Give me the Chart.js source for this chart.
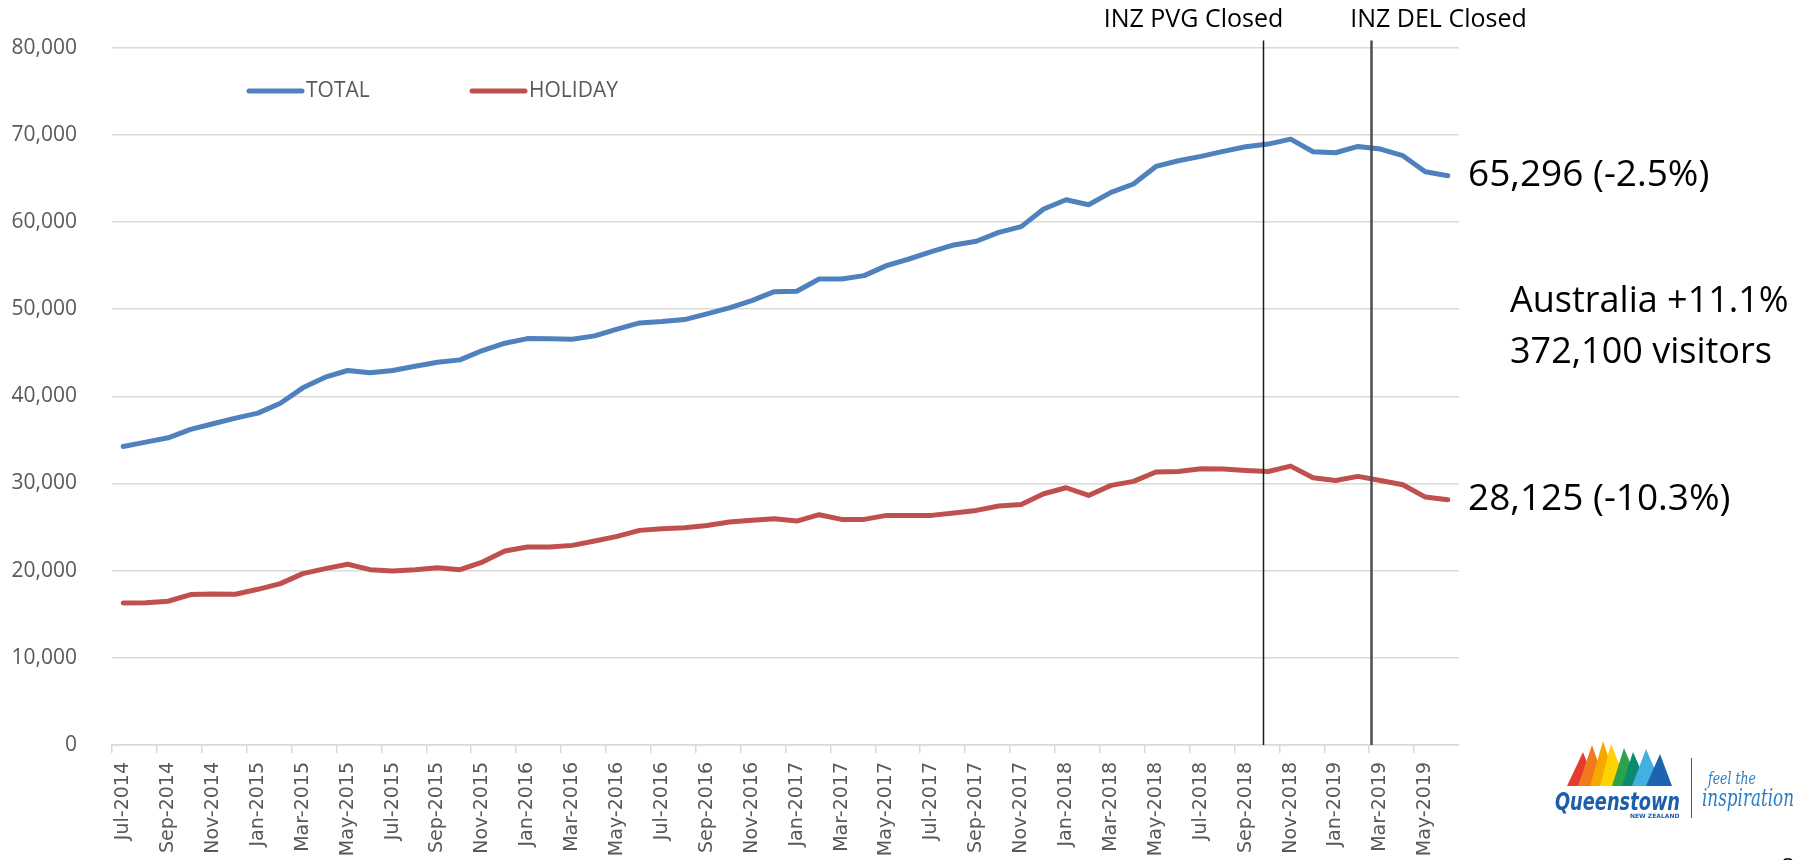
<!DOCTYPE html>
<html>
<head>
<meta charset="utf-8">
<script src="https://cdn.jsdelivr.net/npm/chart.js@4.4.1/dist/chart.umd.min.js"></script>
<style>
  html, body { margin: 0; padding: 0; background: #ffffff; }
  canvas { display: block; }
</style>
</head>
<body>
<canvas id="myChart" width="1814" height="860"></canvas>
<script>
// months Jul-2014 .. Jun-2019
var monthNames = ["Jan", "Feb", "Mar", "Apr", "May", "Jun", "Jul", "Aug", "Sep", "Oct", "Nov", "Dec"];
var months = [];
for (var m = 0; m < 60; m++) {
    var mi = (6 + m) % 12;
    var yr = 2014 + Math.floor((6 + m) / 12);
    months.push(monthNames[mi] + "-" + yr);
}

var totalVisitors = [
    34250, 34740, 35240, 36200, 36850, 37500, 38070, 39200, 40970, 42190,
    42960, 42690, 42960, 43450, 43900, 44180, 45250, 46090, 46620, 46590,
    46550, 46930, 47700, 48420, 48570, 48800, 49450, 50140, 50980, 52000,
    52050, 53460, 53460, 53840, 54990, 55750, 56590, 57360, 57780, 58810,
    59460, 61480, 62550, 61980, 63390, 64350, 66370, 67020, 67520, 68090,
    68630, 68930, 69500, 68050, 67940, 68660, 68360, 67600, 65760, 65296
];

var holidayVisitors = [
    16300, 16330, 16490, 17250, 17330, 17290, 17860, 18510, 19660, 20230,
    20730, 20110, 19960, 20110, 20340, 20110, 20990, 22250, 22710, 22710,
    22900, 23400, 23930, 24620, 24810, 24930, 25190, 25580, 25770, 25960,
    25690, 26420, 25880, 25880, 26340, 26340, 26340, 26610, 26910, 27410,
    27600, 28820, 29510, 28630, 29780, 30240, 31310, 31380, 31690, 31650,
    31500, 31380, 31990, 30660, 30350, 30810, 30350, 29860, 28440, 28125
];

var seriesNames = ["TOTAL", "HOLIDAY"];
var endLabels = ["65,296 (-2.5%)", "28,125 (-10.3%)"];
var summaryLines = ["Australia +11.1%", "372,100 visitors"];

// events marked with vertical lines, position in month index units
var eventLabels = ["INZ PVG Closed", "INZ DEL Closed"];
var eventPositions = [50.76, 55.6];

var yTicks = [0, 10000, 20000, 30000, 40000, 50000, 60000, 70000, 80000];

var gridColor = "#D9D9D9";
var labelColor = "#595959";

function indexToPixel(scale, pos) {
    var i = Math.floor(pos);
    var a = scale.getPixelForValue(i);
    var b = scale.getPixelForValue(i + 1);
    return a + (b - a) * (pos - i);
}

var overlayPlugin = {
    id: "overlay",
    afterDatasetsDraw: function (chart) {
        var ctx = chart.ctx;
        var xs = chart.scales.x;
        var ys = chart.scales.y;
        var area = chart.chartArea;

        // event lines + labels
        var lineStyles = [{ w: 1.5, c: "#1a1a1a", dx: -70 }, { w: 2.5, c: "#4d4d4d", dx: 67 }];
        ctx.save();
        for (var e = 0; e < eventLabels.length; e++) {
            var px = Math.round(indexToPixel(xs, eventPositions[e])) + 0.5;
            ctx.strokeStyle = lineStyles[e].c;
            ctx.lineWidth = lineStyles[e].w;
            ctx.beginPath();
            ctx.moveTo(px, area.top - 7);
            ctx.lineTo(px, area.bottom);
            ctx.stroke();

            ctx.fillStyle = "#000000";
            ctx.font = "25px 'Open Sans'";
            ctx.textAlign = "center";
            ctx.textBaseline = "alphabetic";
            ctx.fillText(eventLabels[e], px + lineStyles[e].dx, 27, 180);
        }

        // legend inside plot
        var legendX = [249, 472];
        ctx.lineCap = "round";
        ctx.lineWidth = 5;
        ctx.font = "21px 'Open Sans'";
        ctx.textAlign = "left";
        ctx.textBaseline = "middle";
        for (var d = 0; d < chart.data.datasets.length; d++) {
            var ds = chart.data.datasets[d];
            ctx.strokeStyle = ds.borderColor;
            ctx.beginPath();
            ctx.moveTo(legendX[d], 91);
            ctx.lineTo(legendX[d] + 53, 91);
            ctx.stroke();
            ctx.fillStyle = labelColor;
            ctx.fillText(ds.label, legendX[d] + 57, 91);
        }

        // end-of-line value labels
        ctx.fillStyle = "#000000";
        ctx.font = "37px 'Open Sans'";
        ctx.textBaseline = "middle";
        for (var k = 0; k < chart.data.datasets.length; k++) {
            var vals = chart.data.datasets[k].data;
            var yy = ys.getPixelForValue(vals[vals.length - 1]);
            ctx.fillText(endLabels[k], area.right + 9, yy, 272);
        }

        // summary
        ctx.textBaseline = "alphabetic";
        ctx.font = "36px 'Open Sans'";
        ctx.fillText(summaryLines[0], 1510, 312, 286);
        ctx.fillText(summaryLines[1], 1510, 363, 270);
        ctx.restore();

        drawLogo(ctx);
    }
};

function drawLogo(ctx) {
    ctx.save();
    var peaks = [
        ["#E63B2E", 1567, 1596, 1583],
        ["#F07A1C", 1578, 1606, 1592],
        ["#F6A800", 1590, 1618, 1603],
        ["#FFD200", 1600, 1628, 1611],
        ["#2BA24C", 1612, 1640, 1624],
        ["#0A8A6E", 1622, 1648, 1633],
        ["#43B0E2", 1632, 1662, 1646],
        ["#1E63B0", 1646, 1672, 1660]
    ];
    var tops = [752, 745, 741, 744, 748, 752, 749, 754];
    for (var i = 0; i < peaks.length; i++) {
        ctx.fillStyle = peaks[i][0];
        ctx.beginPath();
        ctx.moveTo(peaks[i][1], 786);
        ctx.lineTo(peaks[i][3], tops[i]);
        ctx.lineTo(peaks[i][2], 786);
        ctx.closePath();
        ctx.fill();
    }
    ctx.fillStyle = "#1B5FAA";
    ctx.font = "bold italic 25px 'DejaVu Sans'";
    ctx.textAlign = "left";
    ctx.textBaseline = "alphabetic";
    ctx.fillText("Queenstown", 1555, 810, 125);
    ctx.font = "bold 6px 'DejaVu Sans'";
    ctx.fillText("NEW ZEALAND", 1630, 818, 50);
    ctx.strokeStyle = "#1B5FAA";
    ctx.lineWidth = 1;
    ctx.beginPath();
    ctx.moveTo(1691.5, 758);
    ctx.lineTo(1691.5, 818);
    ctx.stroke();
    ctx.fillStyle = "#2B7CC1";
    ctx.font = "italic 17px 'DejaVu Serif'";
    ctx.fillText("feel the", 1708, 784, 48);
    ctx.font = "italic 24px 'DejaVu Serif'";
    ctx.fillText("inspiration", 1702, 806, 92);
    ctx.fillStyle = "#000000";
    ctx.font = "24px 'Open Sans'";
    ctx.fillText("8", 1781, 875);
    ctx.restore();
}

var canvas1 = document.getElementById("myChart");
var ctx1 = canvas1.getContext("2d");

new Chart(ctx1, {
    type: "line",
    data: {
        labels: months,
        datasets: [
            {
                label: seriesNames[0],
                data: totalVisitors,
                borderColor: "#4F81BD",
                backgroundColor: "#4F81BD",
                borderWidth: 5,
                pointRadius: 0,
                tension: 0,
                borderCapStyle: "round",
                borderJoinStyle: "round",
            },
            {
                label: seriesNames[1],
                data: holidayVisitors,
                borderColor: "#C0504D",
                backgroundColor: "#C0504D",
                borderWidth: 5,
                pointRadius: 0,
                tension: 0,
                borderCapStyle: "round",
                borderJoinStyle: "round",
            },
        ],
    },
    options: {
        responsive: false,
        devicePixelRatio: 1,
        animation: false,
        layout: { padding: { left: 0, top: 46, right: 355, bottom: 0 } },
        plugins: {
            legend: { display: false },
            tooltip: { enabled: false },
        },
        scales: {
            x: {
                type: "category",
                offset: true,
                afterFit: function (scale) { scale.height = 115; },
                border: { display: true, color: gridColor, width: 1.5 },
                grid: {
                    offset: true,
                    drawOnChartArea: false,
                    drawTicks: true,
                    tickLength: 8,
                    lineWidth: 1.5,
                    color: function (c) { return c.index % 2 === 0 ? gridColor : "rgba(0,0,0,0)"; },
                },
                ticks: {
                    autoSkip: false,
                    maxRotation: 90,
                    minRotation: 90,
                    padding: 9,
                    color: labelColor,
                    font: { family: "'DejaVu Sans'", size: 19 },
                    callback: function (v, i) { return i % 2 === 0 ? months[i] : ""; },
                },
            },
            y: {
                min: yTicks[0],
                max: yTicks[yTicks.length - 1],
                afterFit: function (scale) { scale.width = 112; },
                afterBuildTicks: function (scale) {
                    scale.ticks = yTicks.map(function (v) { return { value: v }; });
                },
                border: { display: false },
                grid: { color: gridColor, lineWidth: 1.5, drawTicks: false },
                ticks: {
                    padding: 35,
                    color: labelColor,
                    font: { family: "'Open Sans'", size: 21 },
                    callback: function (v) { return v.toLocaleString("en-US"); },
                },
            },
        },
    },
    plugins: [overlayPlugin],
});
</script>
</body>
</html>
